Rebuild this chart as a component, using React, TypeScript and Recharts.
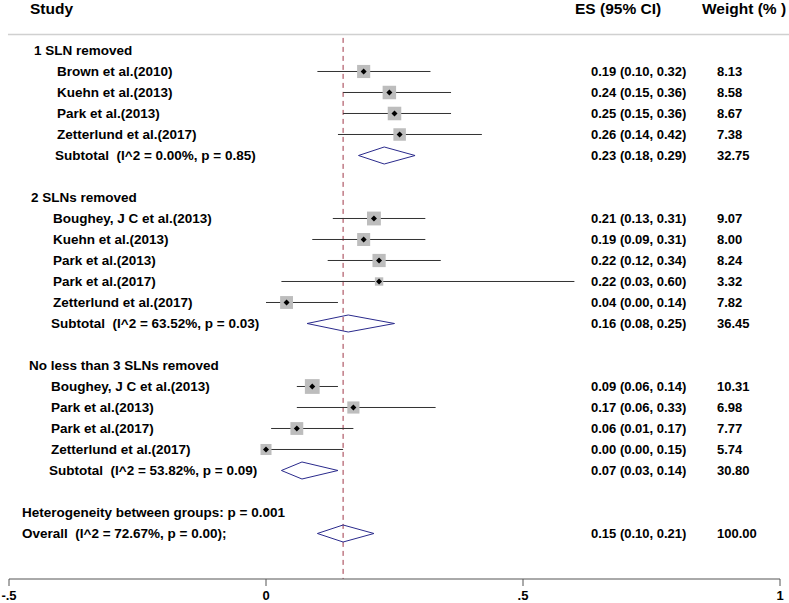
import { ComposedChart, Scatter, XAxis, YAxis, ErrorBar, ReferenceLine } from 'recharts';

// Subgroups
const groupNames = ['1 SLN removed', '2 SLNs removed', 'No less than 3 SLNs removed'];
const groupSizes = [4, 5, 4];

// Individual studies, in plotting order
const studyNames = [
  'Brown et al.(2010)',
  'Kuehn et al.(2013)',
  'Park et al.(2013)',
  'Zetterlund et al.(2017)',
  'Boughey, J C et al.(2013)',
  'Kuehn et al.(2013)',
  'Park et al.(2013)',
  'Park et al.(2017)',
  'Zetterlund et al.(2017)',
  'Boughey, J C et al.(2013)',
  'Park et al.(2013)',
  'Park et al.(2017)',
  'Zetterlund et al.(2017)',
];
const studyES = [0.19, 0.24, 0.25, 0.26, 0.21, 0.19, 0.22, 0.22, 0.04, 0.09, 0.17, 0.06, 0.0];
const studyLow = [0.1, 0.15, 0.15, 0.14, 0.13, 0.09, 0.12, 0.03, 0.0, 0.06, 0.06, 0.01, 0.0];
const studyHigh = [0.32, 0.36, 0.36, 0.42, 0.31, 0.31, 0.34, 0.6, 0.14, 0.14, 0.33, 0.17, 0.15];
const studyWeight = [8.13, 8.58, 8.67, 7.38, 9.07, 8.0, 8.24, 3.32, 7.82, 10.31, 6.98, 7.77, 5.74];

// Subtotals
const subtotalStats = ['(I^2 = 0.00%, p = 0.85)', '(I^2 = 63.52%, p = 0.03)', '(I^2 = 53.82%, p = 0.09)'];
const subtotalES = [0.23, 0.16, 0.07];
const subtotalLow = [0.18, 0.08, 0.03];
const subtotalHigh = [0.29, 0.25, 0.14];
const subtotalWeight = [32.75, 36.45, 30.8];

// Overall
const heterogeneityText = 'Heterogeneity between groups: p = 0.001';
const overallStats = '(I^2 = 72.67%, p = 0.00);';
const overallES = 0.15;
const overallLow = 0.1;
const overallHigh = 0.21;
const overallWeight = 100.0;

const xTicks = [-0.5, 0, 0.5, 1];
const xTickLabels = ['-.5', '0', '.5', '1'];

const FONT = '"Liberation Sans", Arial, sans-serif';
const NAVY = '#2a2a8c';
const groupX = [34, 31, 29];
const studyX = [57, 53, 51];
// rows are 21px apart; the bottom of the domain sits on the x axis
const Y_MAX = 25.1667;

type Row = {
  x: number;
  y: number;
  kind: string;
  label: string;
  group: number;
  es?: number;
  lo?: number;
  hi?: number;
  weight?: number;
  err?: number[];
};

function buildRows() {
  const rows: Row[] = [{ x: -0.5, y: -2, kind: 'header', label: 'Study', group: 0 }];
  let r = 0;
  let s = 0;
  groupNames.forEach((g, gi) => {
    rows.push({ x: -0.5, y: r++, kind: 'group', label: g, group: gi });
    for (let k = 0; k < groupSizes[gi]; k++, s++) {
      rows.push({
        x: studyES[s],
        y: r++,
        kind: 'study',
        label: studyNames[s],
        group: gi,
        es: studyES[s],
        lo: studyLow[s],
        hi: studyHigh[s],
        weight: studyWeight[s],
        err: [studyES[s] - studyLow[s], studyHigh[s] - studyES[s]],
      });
    }
    rows.push({
      x: subtotalES[gi],
      y: r++,
      kind: 'subtotal',
      label: 'Subtotal  ' + subtotalStats[gi],
      group: gi,
      es: subtotalES[gi],
      lo: subtotalLow[gi],
      hi: subtotalHigh[gi],
      weight: subtotalWeight[gi],
    });
    r++; // blank line between groups
  });
  rows.push({ x: -0.5, y: r++, kind: 'het', label: heterogeneityText, group: 0 });
  rows.push({
    x: overallES,
    y: r++,
    kind: 'overall',
    label: 'Overall  ' + overallStats,
    group: 0,
    es: overallES,
    lo: overallLow,
    hi: overallHigh,
    weight: overallWeight,
  });
  return rows;
}

const rows = buildRows();
const studyRows = rows.filter(d => d.kind === 'study');
const diamondRows = rows.filter(d => d.kind === 'subtotal' || d.kind === 'overall');

const pre = { whiteSpace: 'pre' as const };

function TextRow(props: any) {
  const { cy, payload } = props;
  const d: Row = payload;
  if (d.kind === 'header') {
    return (
      <g fontFamily={FONT} fontWeight="bold" fontSize={15.5} fill="#000">
        <text x={30} y={cy} dominantBaseline="central">Study</text>
        <text x={575} y={cy} dominantBaseline="central">ES (95% CI)</text>
        <text x={702} y={cy} dominantBaseline="central" style={pre}>Weight (% )</text>
      </g>
    );
  }
  let x = 22;
  if (d.kind === 'group') x = groupX[d.group];
  if (d.kind === 'study') x = studyX[d.group];
  if (d.kind === 'subtotal') x = studyX[d.group] - 2;
  return (
    <g fontFamily={FONT} fontWeight="bold" fill="#000">
      <text x={x} y={cy} dominantBaseline="central" fontSize={13.5} style={pre}>{d.label}</text>
      {d.es !== undefined && (
        <text x={591} y={cy} dominantBaseline="central" fontSize={13}>
          {`${d.es.toFixed(2)} (${d.lo!.toFixed(2)}, ${d.hi!.toFixed(2)})`}
        </text>
      )}
      {d.weight !== undefined && (
        <text x={717} y={cy} dominantBaseline="central" fontSize={13}>
          {d.weight.toFixed(2)}
        </text>
      )}
    </g>
  );
}

function WeightBox(props: any) {
  const { cx, cy, payload } = props;
  // box area proportional to study weight
  const side = 4.6 * Math.sqrt(payload.weight);
  return <rect x={cx - side / 2} y={cy - side / 2} width={side} height={side} fill="#bdbdbd" />;
}

function PointMark(props: any) {
  const { cx, cy } = props;
  return <polygon points={`${cx - 3},${cy} ${cx},${cy - 3} ${cx + 3},${cy} ${cx},${cy + 3}`} fill="#000" />;
}

export default function App() {
  return (
    <div style={{ position: 'absolute', left: 0, top: 0, background: '#fff' }}>
      <ComposedChart width={789} height={603} margin={{ top: 8.5, right: 9, bottom: 0, left: 9 }}>
        <XAxis
          type="number"
          dataKey="x"
          domain={[-0.5, 1]}
          ticks={xTicks}
          height={24}
          tickSize={7}
          tickMargin={5}
          stroke="#555"
          tick={{ fill: '#000', fontSize: 13, fontWeight: 'bold', fontFamily: FONT }}
          tickFormatter={(v: number) => xTickLabels[xTicks.indexOf(v)]}
        />
        <YAxis type="number" dataKey="y" domain={[-2, Y_MAX]} reversed hide />

        {/* header rule runs the full width of the figure */}
        <ReferenceLine
          segment={[{ x: -0.502, y: -0.76 }, { x: 1.0175, y: -0.76 }]}
          stroke="#d0d0d0"
          strokeWidth={1.5}
          ifOverflow="visible"
        />
        <ReferenceLine
          segment={[{ x: overallES, y: -0.6 }, { x: overallES, y: Y_MAX }]}
          stroke="#a03848"
          strokeDasharray="5 4"
          ifOverflow="visible"
        />

        {/* confidence intervals below the weight boxes */}
        <Scatter data={studyRows} isAnimationActive={false} shape={() => <g />}>
          <ErrorBar dataKey="err" direction="x" width={0} stroke="#333" strokeWidth={1} />
        </Scatter>
        <Scatter data={studyRows} isAnimationActive={false} shape={WeightBox} />
        <Scatter data={studyRows} isAnimationActive={false} shape={PointMark} />

        {diamondRows.map(d => (
          <Scatter
            key={d.y}
            data={[
              { x: d.lo, y: d.y },
              { x: d.es, y: d.y - 0.405 },
              { x: d.hi, y: d.y },
              { x: d.es, y: d.y + 0.405 },
              { x: d.lo, y: d.y },
            ]}
            line={{ stroke: NAVY, strokeWidth: 1 }}
            lineType="joint"
            shape={() => <g />}
            isAnimationActive={false}
          />
        ))}

        <Scatter data={rows} isAnimationActive={false} shape={TextRow} />
      </ComposedChart>
    </div>
  );
}
